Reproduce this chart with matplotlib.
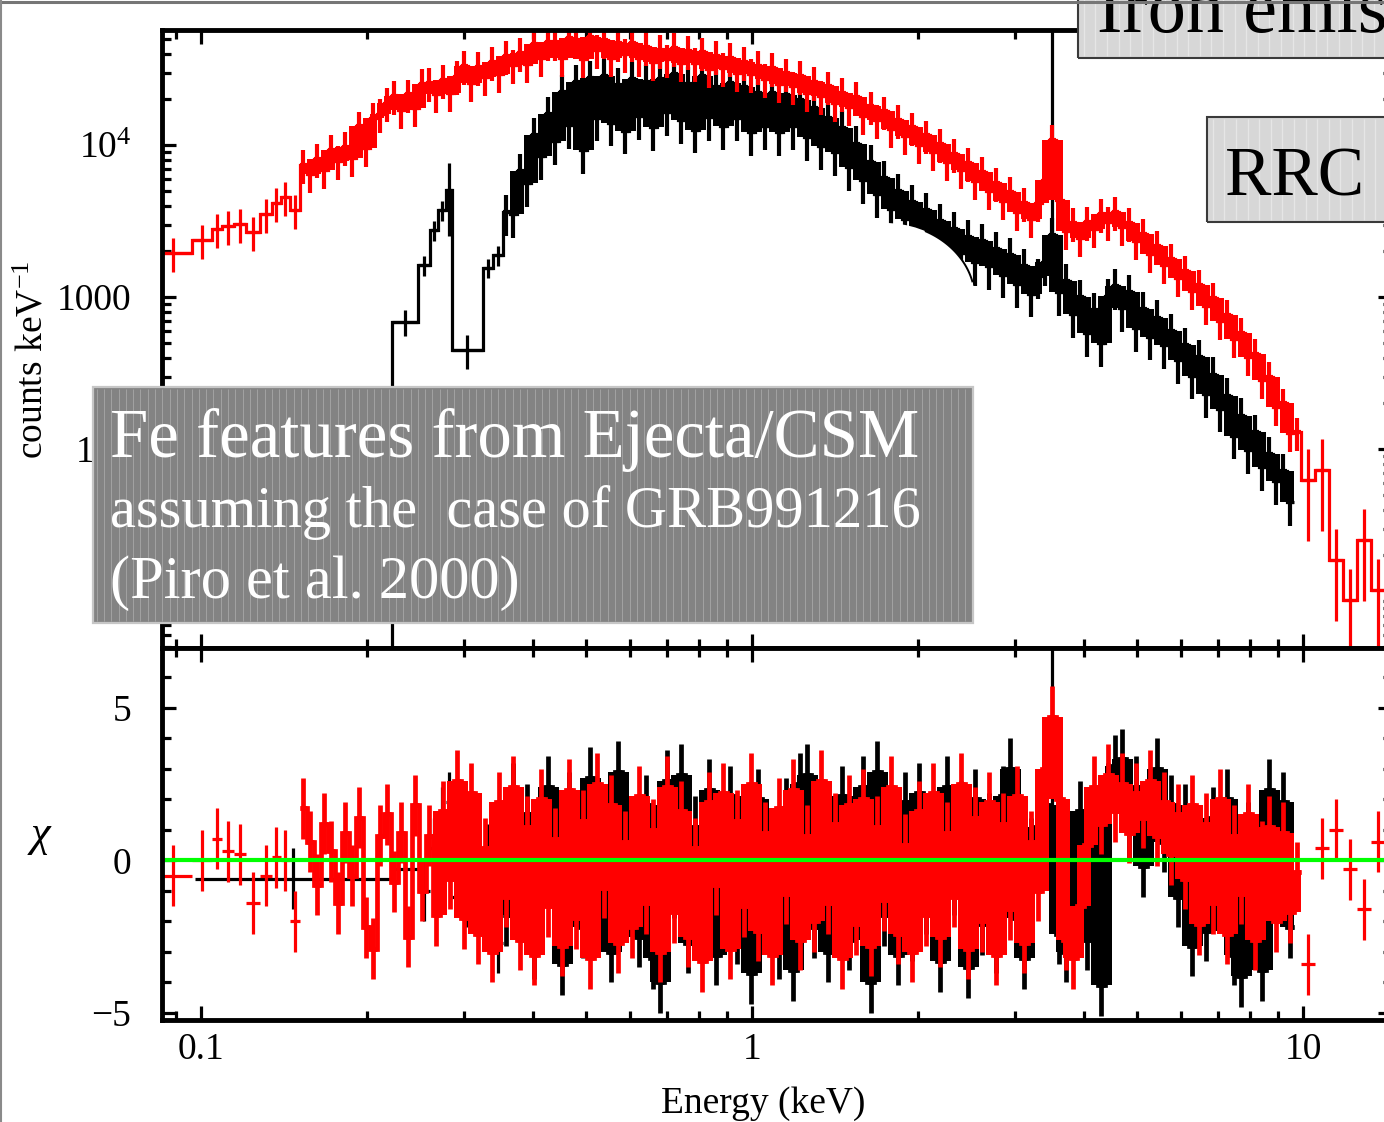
import numpy as np
import matplotlib
matplotlib.use("Agg")
import matplotlib.pyplot as plt
from matplotlib.patches import Rectangle, Ellipse
from matplotlib.lines import Line2D
from matplotlib.collections import LineCollection
from matplotlib.ticker import FixedLocator, FixedFormatter, LogLocator, NullFormatter, MultipleLocator

plt.rcParams["font.family"] = ["Liberation Serif", "DejaVu Serif"]
plt.rcParams["mathtext.fontset"] = "custom"
plt.rcParams["mathtext.rm"] = "Liberation Serif"
plt.rcParams["mathtext.it"] = "Liberation Serif:italic"
plt.rcParams["mathtext.bf"] = "Liberation Serif:bold"

# ---------------------------------------------------------------- data
# common channel grid (keV, bin edges)
channel_edges = [
    0.1512, 0.1557, 0.1603, 0.1651, 0.1700, 0.1750, 0.1802, 0.1856, 0.1911, 0.1968,
    0.2026, 0.2086, 0.2148, 0.2212, 0.2278, 0.2345, 0.2415, 0.2487, 0.2561, 0.2637,
    0.2715, 0.2795, 0.2878, 0.2964, 0.3052, 0.3142, 0.3236, 0.3332, 0.3430, 0.3532,
    0.3637, 0.3745, 0.3856, 0.3971, 0.4088, 0.4210, 0.4335, 0.4463, 0.4596, 0.4732,
    0.4873, 0.5018, 0.5166, 0.5320, 0.5478, 0.5640, 0.5808, 0.5980, 0.6158, 0.6340,
    0.6529, 0.6722, 0.6922, 0.7127, 0.7339, 0.7557, 0.7781, 0.8012, 0.8250, 0.8495,
    0.8747, 0.9006, 0.9274, 0.9549, 0.9832, 1.0124, 1.0425, 1.0734, 1.1053, 1.1381,
    1.1719, 1.2067, 1.2425, 1.2794, 1.3174, 1.3565, 1.3967, 1.4382, 1.4809, 1.5248,
    1.570, 1.617, 1.665, 1.714, 1.765, 1.817, 1.871, 1.927, 1.984, 2.043,
    2.103, 2.166, 2.230, 2.296, 2.364, 2.434, 2.507, 2.581, 2.658, 2.737,
    2.818, 2.902, 2.988, 3.076, 3.168, 3.262, 3.358, 3.458, 3.561, 3.666,
    3.775, 3.887, 4.003, 4.121, 4.244, 4.370, 4.499, 4.633, 4.770, 4.912,
    5.058, 5.208, 5.362, 5.521, 5.685, 5.854, 6.028, 6.206, 6.391, 6.580,
    6.775, 6.977, 7.184, 7.397, 7.616, 7.842, 8.075, 8.315, 8.561, 8.815,
    9.077, 9.346, 9.624, 9.909,
]

# red spectrum: wide soft bins, channel grid, wide hard bins
red_soft_edges = [0.0825, 0.0963, 0.1047, 0.1092, 0.1148, 0.1207, 0.1280, 0.1346, 0.1397, 0.1451]
red_hard_edges = [10.51, 11.15, 11.82, 12.53, 13.29, 14.09]

red_counts_soft = [1950, 2370, 2800, 2930, 3020, 2680, 3520, 4150, 4550, 3740]
red_counts = [
    7390, 6450, 8090, 6850, 9270, 7840, 9720, 8220, 13300, 9580,
    15100, 16000, 18900, 21000, 17000, 21600, 17500, 25200, 25600, 21600,
    26800, 22000, 28500, 33100, 25600, 32600, 28000, 35200, 29300, 38600,
    33600, 40300, 34100, 46200, 37300, 47600, 47600, 37300, 50600, 49100,
    36700, 51400, 42200, 49100, 37300, 46900, 39700, 46900, 37300, 44200,
    35200, 42200, 36700, 43500, 34700, 41500, 34700, 40800, 31600, 38600,
    32100, 37300, 29700, 35200, 29300, 33100, 27200, 32100, 25200, 29700,
    24400, 28500, 22000, 26000, 21000, 24400, 18900, 22000, 17700, 20700,
    15500, 18000, 14600, 16700, 12800, 14600, 11400, 13100, 10000, 11600,
    8990, 10200, 7720, 8730, 6850, 7620, 5800, 6650, 4990, 5630,
    4290, 4910, 3630, 4170, 3260, 4170, 5890, 10800, 4350, 2720,
    3080, 2450, 3120, 2800, 3510, 3120, 3630, 2890, 3080, 2330,
    2600, 1920, 2170, 1620, 1780, 1330, 1490, 1090, 1200, 873,
    985, 696, 761, 529, 579, 404, 425, 284, 297, 190,
    200, 128, 129,
]
red_counts_hard = [62.5, 72.7, 18.6, 10.2, 25.2, 11.8]

red_chi_soft = [-0.5, 0.0, 0.7, 0.3, 0.2, -1.4, -0.5, 0.1, 0.0, -2.0]
red_chi = [
    1.7, 0.6, -0.8, 1.2, 0.3, -1.4, 0.9, -0.5, 1.4, -2.2,
    -2.9, 0.8, 1.5, -0.7, 0.9, -2.5, 1.8, -1.0, 0.8, -1.8,
    1.6, -0.6, 2.6, -1.9, 2.2, -2.4, 0.4, -3.0, 1.9, -1.2,
    2.4, -2.6, 1.1, -3.1, 2.0, -1.5, 0.7, -2.8, 2.3, -1.9,
    1.3, -3.2, 2.5, -0.9, 1.8, -2.7, 0.6, -2.2, 2.1, -1.4,
    1.0, -3.0, 2.4, -1.7, 1.6, -2.5, 0.4, -3.3, 1.9, -0.8,
    2.2, -2.9, 1.3, -1.5, 2.5, -2.3, 0.9, -3.1, 1.7, -1.1,
    2.3, -2.6, 0.8, -2.0, 2.6, -1.4, 1.2, -3.2, 1.8, -2.1,
    2.0, -2.8, 1.1, -1.3, 2.4, -2.4, 0.5, -3.0, 1.6, -1.8,
    2.2, -2.5, 0.9, -1.2, 2.5, -2.9, 1.4, -2.0, 1.9, -3.1,
    1.2, -1.6, 2.1, -2.7, 0.6, -1.0,
    3.0, 4.7, 2.0,
    -2.6, -3.2, -1.5,
    0.5, 2.4, 1.2, 2.8, 1.6, 2.5, 0.9, 2.2, 1.4, 2.6, 0.8, 1.9, 0.2, 1.5,
    -0.6, 1.8, -2.1, 1.2, -1.4, 2.0, -2.4, 0.8, -1.1, 1.5, -2.6, 0.3, 1.1, -2.0,
    0.9, -1.7, -0.4,
]
red_chi_hard = [-3.4, 0.4, 1.0, -0.3, -1.6, 0.6]

# fractional 1-sigma errors on the red counts
red_frac_err_soft = 0.25
red_frac_err = 0.25
red_frac_err_hard = 0.6

# black spectrum: wide soft bins, then channel grid from 0.353 keV
black_soft_edges = [0.0975, 0.2221, 0.2476, 0.2604, 0.2692, 0.2784, 0.2855, 0.3250, 0.3389]
black_grid_start, black_grid_stop = 29, 143

black_counts_soft = [2.0, 690, 1620, 2760, 3740, 5060, 448, 1560, 1890]
black_counts = [
    3630, 3520, 6750, 5630, 11600, 8470, 16000, 10600, 22300, 13500,
    26000, 9270, 27600, 15100, 28500, 14000, 24800, 12400, 27200, 15500,
    26000, 13100, 27200, 16500, 29300, 14600, 25200, 12600, 28500, 15300,
    24000, 13300, 25600, 15100, 24000, 12200, 22000, 13300, 22000, 12200,
    21300, 13300, 19800, 11300, 17500, 9850, 15100, 8990, 12900, 7170,
    10200, 5890, 7720, 4760, 6080, 3800, 4990, 3260, 4220, 2760,
    3740, 2470, 3160, 2130, 2800, 1940, 2470, 1700, 2330, 1600,
    2070, 1400, 1890, 1220, 1600, 1050, 1380, 1700, 2560, 1080,
    1270, 770, 1000, 580, 821, 498, 1010, 1180, 848, 1080,
    626, 834, 550, 733, 483, 598, 385, 483, 304, 403,
    229, 309, 184, 225, 122, 166, 98.5, 129, 75.9, 92.8, 61.3, 71.6, 44.8,
]
black_chi_soft = [-0.6, -0.3, -1.0, 0.4, 1.4, 1.9, -1.2, 0.2, -2.7]
black_chi = [
    -1.8, 2.2, -0.6, 1.5, -2.9, 0.8, 2.4, -1.3, -3.4, 1.9,
    0.4, -2.2, 2.7, -1.0, 1.2, -3.0, 2.9, -1.6, 0.7, -2.5,
    1.8, -3.2, -4.0, 2.6, -0.9, 2.8, -2.7, 1.1, -1.9, 2.3,
    -3.1, 0.9, 2.1, -2.4, 1.4, -3.7, 2.0, -1.2, 0.5, -2.9,
    1.7, -3.6, 2.5, 2.8, -2.2, 1.3, -3.0, 0.6, 2.1, -2.6,
    1.0, 2.4, -4.0, 2.9, -1.8, 0.9, -3.1, 1.9, -2.3, 2.2,
    -1.4, 0.7, -3.3, 2.4, -0.8, 1.6, -3.5, 2.0, -2.1, 1.2,
    -2.7, 2.1, 3.0, -1.9, -3.2, 0.4, 1.1, 1.8, 0.8, -2.4,
    -3.0, -2.0, 1.6, -2.6, 0.5, -4.1, 2.2, 3.1, 3.3, 1.0,
    2.4, -0.2, 2.0, 3.0, 0.6, 1.8, -1.2, 1.5, -2.8, 0.7,
    -2.3, 1.4, -1.1, 2.0, -3.1, -3.8, 0.9, -1.5, -3.6, 2.3, -0.4, 1.9, -2.2,
]
black_frac_err_soft = [0.5, 0.2, 0.15, 0.15, 0.15, 0.5, 0.25, 0.15, 0.15]
black_frac_err = 0.3

# black bin at the Fe K line with an unbounded upper error
black_fe_energy = 3.51
black_fe_top = 9.0e4
black_fe_chi_top = 9.0

chi_err = 1.0

# residual channels are packed tightly enough to merge above this energy (keV)
residual_core_from = 0.26

# ---------------------------------------------------------------- assembly
red_edges = np.array(red_soft_edges + channel_edges + red_hard_edges)
red_c = np.array(red_counts_soft + red_counts + red_counts_hard, dtype=float)
red_frac = np.concatenate([np.full(len(red_counts_soft), red_frac_err_soft),
                           np.full(len(red_counts), red_frac_err),
                           np.full(len(red_counts_hard), red_frac_err_hard)])
red_x = np.array(red_chi_soft + red_chi + red_chi_hard)
red_dense = (len(red_counts_soft), len(red_counts_soft) + len(red_counts))

black_edges = np.array(black_soft_edges + channel_edges[black_grid_start:black_grid_stop])
black_c = np.array(black_counts_soft + black_counts, dtype=float)
black_frac = np.concatenate([black_frac_err_soft, np.full(len(black_counts), black_frac_err)])
black_x = np.array(black_chi_soft + black_chi)
black_dense = (len(black_counts_soft), len(black_counts_soft) + len(black_counts))

# ---------------------------------------------------------------- figure
W, H = 1384, 1122
fig = plt.figure(figsize=(W / 100, H / 100), dpi=100)
fig.patch.set_facecolor("white")


def fx(px):
    return px / W


def fy(py):
    return 1 - py / H


X_LEFT, X_RIGHT = 162, 1392
ax_top = fig.add_axes([fx(X_LEFT), fy(648), (X_RIGHT - X_LEFT) / W, (648 - 30) / H])
ax_res = fig.add_axes([fx(X_LEFT), fy(1020), (X_RIGHT - X_LEFT) / W, (1020 - 648) / H],
                      sharex=ax_top)

LW_SPARSE = 2.3     # isolated crosses
LW_DENSE_TOP = 3.0  # closely packed channels, spectrum
LW_DENSE_RES = 3.4  # closely packed channels, residuals


def neighbour_range(v):
    """min / max of each channel and its two neighbours (the packed-channel core)."""
    p = np.concatenate([[v[0]], v, [v[-1]]])
    lo = np.minimum(np.minimum(p[:-2], p[1:-1]), p[2:])
    hi = np.maximum(np.maximum(p[:-2], p[1:-1]), p[2:])
    return lo, hi


def fill_core(ax, edges, values, color, z):
    if len(values) == 0:
        return
    lo, hi = neighbour_range(values)
    ax.fill_between(edges, np.append(lo, lo[-1]), np.append(hi, hi[-1]),
                    step="post", color=color, lw=0, zorder=z)


def draw_spectrum(edges, counts, frac, chi, dense, color, z):
    cent = np.sqrt(edges[:-1] * edges[1:])
    lo, hi = dense
    n = len(counts)
    parts = [(0, lo, LW_SPARSE, LW_SPARSE), (lo, hi, LW_DENSE_TOP, LW_DENSE_RES),
             (hi, n, LW_SPARSE, LW_SPARSE)]
    for a, b, lw_top, lw_res in parts:
        if b <= a:
            continue
        sl = slice(a, b)
        xerr = [cent[sl] - edges[a:b], edges[a + 1:b + 1] - cent[sl]]
        ax_top.errorbar(cent[sl], counts[sl], xerr=xerr, yerr=counts[sl] * frac[sl],
                        fmt="none", ecolor=color, elinewidth=lw_top, capsize=0, zorder=z)
        ax_res.errorbar(cent[sl], chi[sl], xerr=xerr, yerr=chi_err, fmt="none",
                        ecolor=color, elinewidth=lw_res, capsize=0, zorder=z)
    fill_core(ax_top, edges[lo:hi + 1], counts[lo:hi], color, z)
    rlo = max(lo, int(np.searchsorted(edges, residual_core_from)))
    fill_core(ax_res, edges[rlo:hi + 1], chi[rlo:hi], color, z)
    ax_top.stairs(counts, edges, baseline=None, color=color, lw=LW_SPARSE, zorder=z)
    ax_res.stairs(chi[lo:hi], edges[lo:hi + 1], baseline=None, color=color,
                  lw=LW_DENSE_RES, zorder=z)
    return cent


black_cent = draw_spectrum(black_edges, black_c, black_frac, black_x, black_dense, "black", 2)
i_fe = int(np.argmin(np.abs(np.log(black_cent / black_fe_energy))))
ax_top.errorbar([black_cent[i_fe]], [black_c[i_fe]],
                yerr=[[0], [black_fe_top - black_c[i_fe]]], fmt="none",
                ecolor="black", elinewidth=LW_SPARSE, capsize=0, zorder=2)
ax_res.errorbar([black_cent[i_fe]], [black_x[i_fe]],
                yerr=[[0], [black_fe_chi_top - black_x[i_fe]]], fmt="none",
                ecolor="black", elinewidth=LW_SPARSE, capsize=0, zorder=2)

draw_spectrum(red_edges, red_c, red_frac, red_x, red_dense, "#ff0000", 3)

ax_res.axhline(0, color="#00ff00", lw=3.0, zorder=4)

# ---------------------------------------------------------------- axes styling
for ax in (ax_top, ax_res):
    ax.set_xscale("log")
    ax.set_xlim(0.0850, 14.5)
    for s in ax.spines.values():
        s.set_linewidth(3.5)
        s.set_zorder(6)
    ax.tick_params(which="both", direction="in", top=True, right=True,
                   width=2.3, labelsize=27, colors="black")
    ax.tick_params(which="major", length=10)
    ax.tick_params(which="minor", length=6.5)
    ax.xaxis.set_major_locator(FixedLocator([0.1, 1, 10]))
    ax.xaxis.set_minor_locator(LogLocator(base=10, subs=(2, 3, 4, 5, 6, 7, 8, 9), numticks=50))
    ax.xaxis.set_minor_formatter(NullFormatter())

ax_top.set_yscale("log")
ax_top.set_ylim(4.91, 5.72e4)
ax_top.yaxis.set_major_locator(FixedLocator([100, 1000, 1e4]))
ax_top.yaxis.set_major_formatter(FixedFormatter(["100", "1000", r"$10^{4}$"]))
ax_top.yaxis.set_minor_locator(LogLocator(base=10, subs=(1, 2, 3, 4, 5, 6, 7, 8, 9), numticks=50))
ax_top.yaxis.set_minor_formatter(NullFormatter())
ax_top.tick_params(axis="x", labelbottom=False)
ax_top.tick_params(axis="y", pad=22)

ax_res.set_ylim(-5.23, 6.95)
ax_res.yaxis.set_major_locator(MultipleLocator(5))
ax_res.yaxis.set_minor_locator(MultipleLocator(1))
ax_res.xaxis.set_major_formatter(FixedFormatter(["0.1", "1", "10"]))
ax_res.tick_params(axis="y", pad=22)
ax_res.tick_params(axis="x", pad=9)

fig.text(fx(33), fy(360), r"counts keV$^{-1}$", rotation=90, ha="center", va="center", fontsize=27)
fig.text(fx(40), fy(835), "\u03c7", fontstyle="italic", ha="center", va="center", fontsize=32)
fig.text(fx(763), fy(1113), "Energy (keV)", ha="center", va="baseline", fontsize=27)

# ---------------------------------------------------------------- overlays
# white cut-out with a dark rim
blob_cx, blob_cy, blob_a, blob_b = 885, 300, 90, 77
fig.add_artist(Ellipse((fx(blob_cx), fy(blob_cy)), 2 * blob_a / W, 2 * blob_b / H,
                       transform=fig.transFigure, fc="white", ec="none", zorder=5))
t = np.radians(np.linspace(14, 63, 40))
fig.add_artist(Line2D(fx(blob_cx + blob_a * np.cos(t)), fy(blob_cy - blob_b * np.sin(t)),
                      transform=fig.transFigure, color="black", lw=1.4, zorder=5))


def striped_box(x0, y0, x1, y1, face, stripe, edge, period, edge_lw, stripe_lw):
    fig.add_artist(Rectangle((fx(x0), fy(y1)), (x1 - x0) / W, (y1 - y0) / H,
                             transform=fig.transFigure, fc=face, ec="none", zorder=10))
    xs = np.arange(x0 + period / 2, x1, period)
    segs = [[(fx(x), fy(y0 + 2)), (fx(x), fy(y1 - 2))] for x in xs]
    fig.add_artist(LineCollection(segs, colors=stripe, linewidths=stripe_lw,
                                  transform=fig.transFigure, zorder=11))
    fig.add_artist(Rectangle((fx(x0), fy(y1)), (x1 - x0) / W, (y1 - y0) / H,
                             transform=fig.transFigure, fc="none", ec=edge,
                             lw=edge_lw, zorder=12))


striped_box(93, 387, 973, 623, "#838383", "#a2a2a2", "#c6c6c6", 7.3, 1.6, 0.7)
striped_box(1078, -4, 1400, 58, "#d7d7d7", "#e6e6e6", "#3a3a3a", 11.6, 1.5, 1.0)
striped_box(1207, 117, 1400, 222, "#d7d7d7", "#e6e6e6", "#3a3a3a", 11.6, 1.5, 1.0)

renderer = fig.canvas.get_renderer()


def fit_line(s, x0, x1, baseline, color):
    txt = fig.text(fx(x0), fy(baseline), s, ha="left", va="baseline",
                   fontsize=40, color=color, zorder=13)
    w = txt.get_window_extent(renderer=renderer).width
    txt.set_fontsize(40 * (x1 - x0) / w)
    return txt


fit_line("Fe features from Ejecta/CSM", 110, 918, 457, "white")
fit_line("assuming the  case of GRB991216", 110, 920, 527, "white")
fit_line("(Piro et al. 2000)", 110, 520, 598, "white")

fig.text(fx(1097), fy(32), "Iron emis", ha="left", va="baseline", fontsize=55,
         color="black", zorder=13)
fig.text(fx(1225), fy(195), "RRC s", ha="left", va="baseline", fontsize=50,
         color="black", zorder=13)

# slide frame
fig.add_artist(Line2D([0, 1], [fy(1.5), fy(1.5)], transform=fig.transFigure,
                      color="#767676", lw=2.2, zorder=20))
fig.add_artist(Line2D([fx(1.0), fx(1.0)], [0, 1], transform=fig.transFigure,
                      color="#8a8a8a", lw=1.5, zorder=20))

fig.savefig("out.png", dpi=100)
